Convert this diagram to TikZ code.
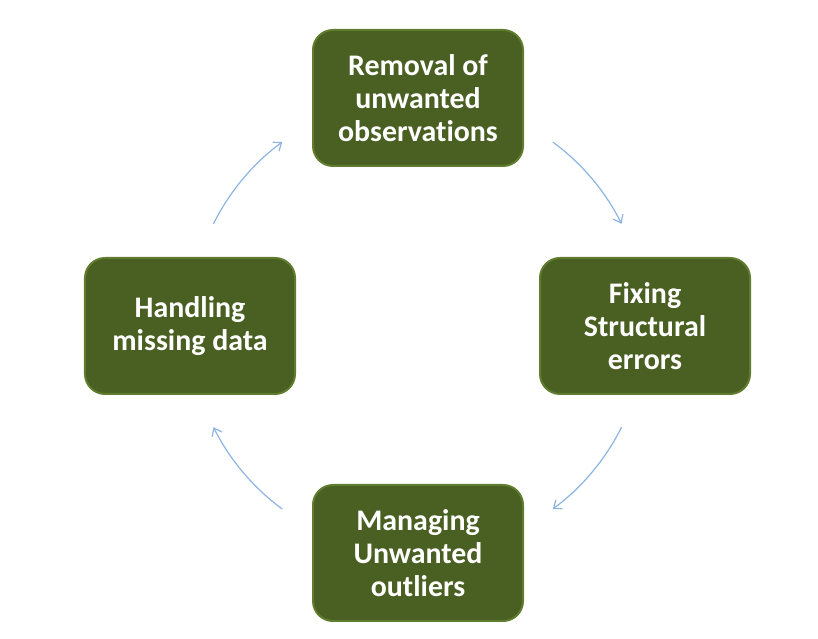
\documentclass[tikz,border=0pt]{standalone}
\usepackage{fontspec}
\setmainfont[Ligatures={NoCommon}]{Carlito}
\usetikzlibrary{arrows.meta,calc}
\definecolor{boxfill}{RGB}{74,95,34}
\definecolor{boxedge}{RGB}{96,124,46}
\definecolor{arrblue}{RGB}{141,180,226}
\tikzset{
  stage/.style={rectangle, rounded corners=20bp, minimum width=210bp, minimum height=136bp,
    fill=boxfill, draw=boxedge, line width=2bp, text=white, align=center,
    font=\fontsize{30}{33}\selectfont\bfseries, inner sep=0pt},
  cyc/.style={draw=arrblue, line width=1.2bp, -{Straight Barb[length=7bp,width=11bp]}}
}
\begin{document}
\begin{tikzpicture}[x=1bp,y=1bp]
\useasboundingbox (0,0) rectangle (818,639);
\coordinate (c) at (417.5,313.5);
\node[stage] (top) at (418,541) {Removal of\\unwanted\\observations};
\node[stage] (right) at (645,313) {Fixing\\Structural\\errors};
\node[stage] (bottom) at (418,86) {Managing\\Unwanted\\outliers};
\node[stage] (left) at (190,313) {Handling\\missing data};
\coordinate (a1) at ($(c)+(153.5:228)$);
\coordinate (a2) at ($(c)+(53.6:228)$);
\coordinate (a3) at ($(c)+(-26.5:228)$);
\coordinate (a4) at ($(c)+(-126.4:228)$);
\draw[cyc] (a1) arc[start angle=153.5, end angle=126.4, radius=228];
\draw[cyc] (a2) arc[start angle=53.6, end angle=26.5, radius=228];
\draw[cyc] (a3) arc[start angle=-26.5, end angle=-53.6, radius=228];
\draw[cyc] (a4) arc[start angle=-126.4, end angle=-153.5, radius=228];
\end{tikzpicture}
\end{document}
